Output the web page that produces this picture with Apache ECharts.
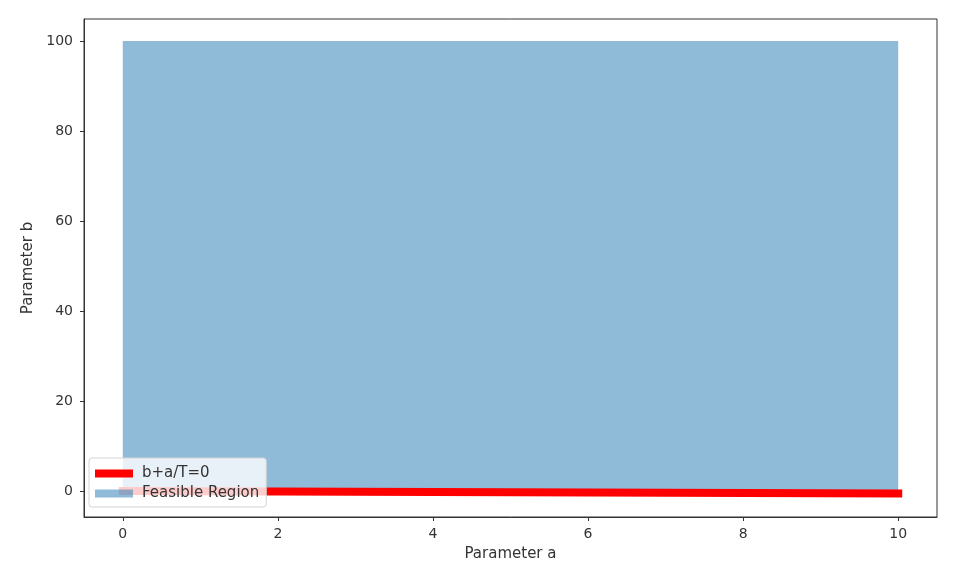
<!DOCTYPE html>
<html>
<head>
<meta charset="utf-8">
<script src="https://cdn.jsdelivr.net/npm/echarts@6/dist/echarts.min.js"></script>
<style>html,body{margin:0;padding:0;background:#fff}#c{width:957px;height:568px}</style>
</head>
<body>
<div id="c"></div>
<script>
// Data
const lineA = [0, 10];          // parameter a
const lineB = [0, -0.6];        // b = -a/T
const regionA = [0, 10];
const regionTop = [100, 100];
const regionBottom = 0;
const xTicks = [0, 2, 4, 6, 8, 10];
const yTicks = [0, 20, 40, 60, 80, 100];
const seriesNames = ['b+a/T=0', 'Feasible Region'];

const chart = echarts.init(document.getElementById('c'));
const font = 'DejaVu Sans';
const axisCommon = {
  axisLine: { show: true, onZero: false, lineStyle: { color: '#333', width: 1 } },
  splitLine: { show: false }
};
chart.setOption({
  animation: false,
  backgroundColor: '#fff',
  grid: { left: 84, right: 20, top: 19, bottom: 51, show: true, borderColor: '#333', borderWidth: 1, backgroundColor: 'transparent' },
  legend: {
    orient: 'vertical', left: 89, top: 458,
    backgroundColor: 'rgba(255,255,255,0.8)', borderColor: '#d4d4d4', borderWidth: 1, borderRadius: 3,
    padding: [8, 7, 6, 6], itemGap: 5, itemWidth: 38, itemHeight: 8,
    textStyle: { fontFamily: font, fontSize: 15, color: '#333', padding: [0, 0, 0, 4] },
    data: [
      { name: seriesNames[0], icon: 'rect', itemStyle: { color: '#ff0000' } },
      { name: seriesNames[1], icon: 'rect', itemStyle: { color: 'rgba(31,119,180,0.5)' } }
    ]
  },
  xAxis: Object.assign({
    type: 'value', min: -0.5, max: 10.5,
    name: 'Parameter a', nameLocation: 'middle', nameGap: 30,
    nameTextStyle: { fontFamily: font, fontSize: 15, color: '#333' },
    axisTick: { show: true, length: 4, lineStyle: { color: '#333' }, customValues: xTicks },
    axisLabel: { fontFamily: font, fontSize: 14, color: '#333', margin: 10, customValues: xTicks }
  }, axisCommon),
  yAxis: Object.assign({
    type: 'value', min: -5.8, max: 104.9,
    name: 'Parameter b', nameLocation: 'middle', nameGap: 47,
    nameTextStyle: { fontFamily: font, fontSize: 15, color: '#333' },
    axisTick: { show: true, length: 4, lineStyle: { color: '#333' }, customValues: yTicks },
    axisLabel: { fontFamily: font, fontSize: 14, color: '#333', margin: 11, customValues: yTicks }
  }, axisCommon),
  series: [
    {
      name: seriesNames[1], type: 'line', symbol: 'none', z: 1,
      data: regionA.map((a, i) => [a, regionTop[i]]),
      lineStyle: { width: 0, color: 'rgba(31,119,180,0.5)' },
      itemStyle: { color: 'rgba(31,119,180,0.5)' },
      areaStyle: { color: 'rgba(31,119,180,0.5)', opacity: 1, origin: regionBottom }
    },
    {
      name: seriesNames[0], type: 'line', symbol: 'none', z: 2,
      data: lineA.map((a, i) => [a, lineB[i]]),
      lineStyle: { width: 8, color: '#ff0000', cap: 'square' },
      itemStyle: { color: '#ff0000' }
    }
  ]
});
</script>
</body>
</html>
